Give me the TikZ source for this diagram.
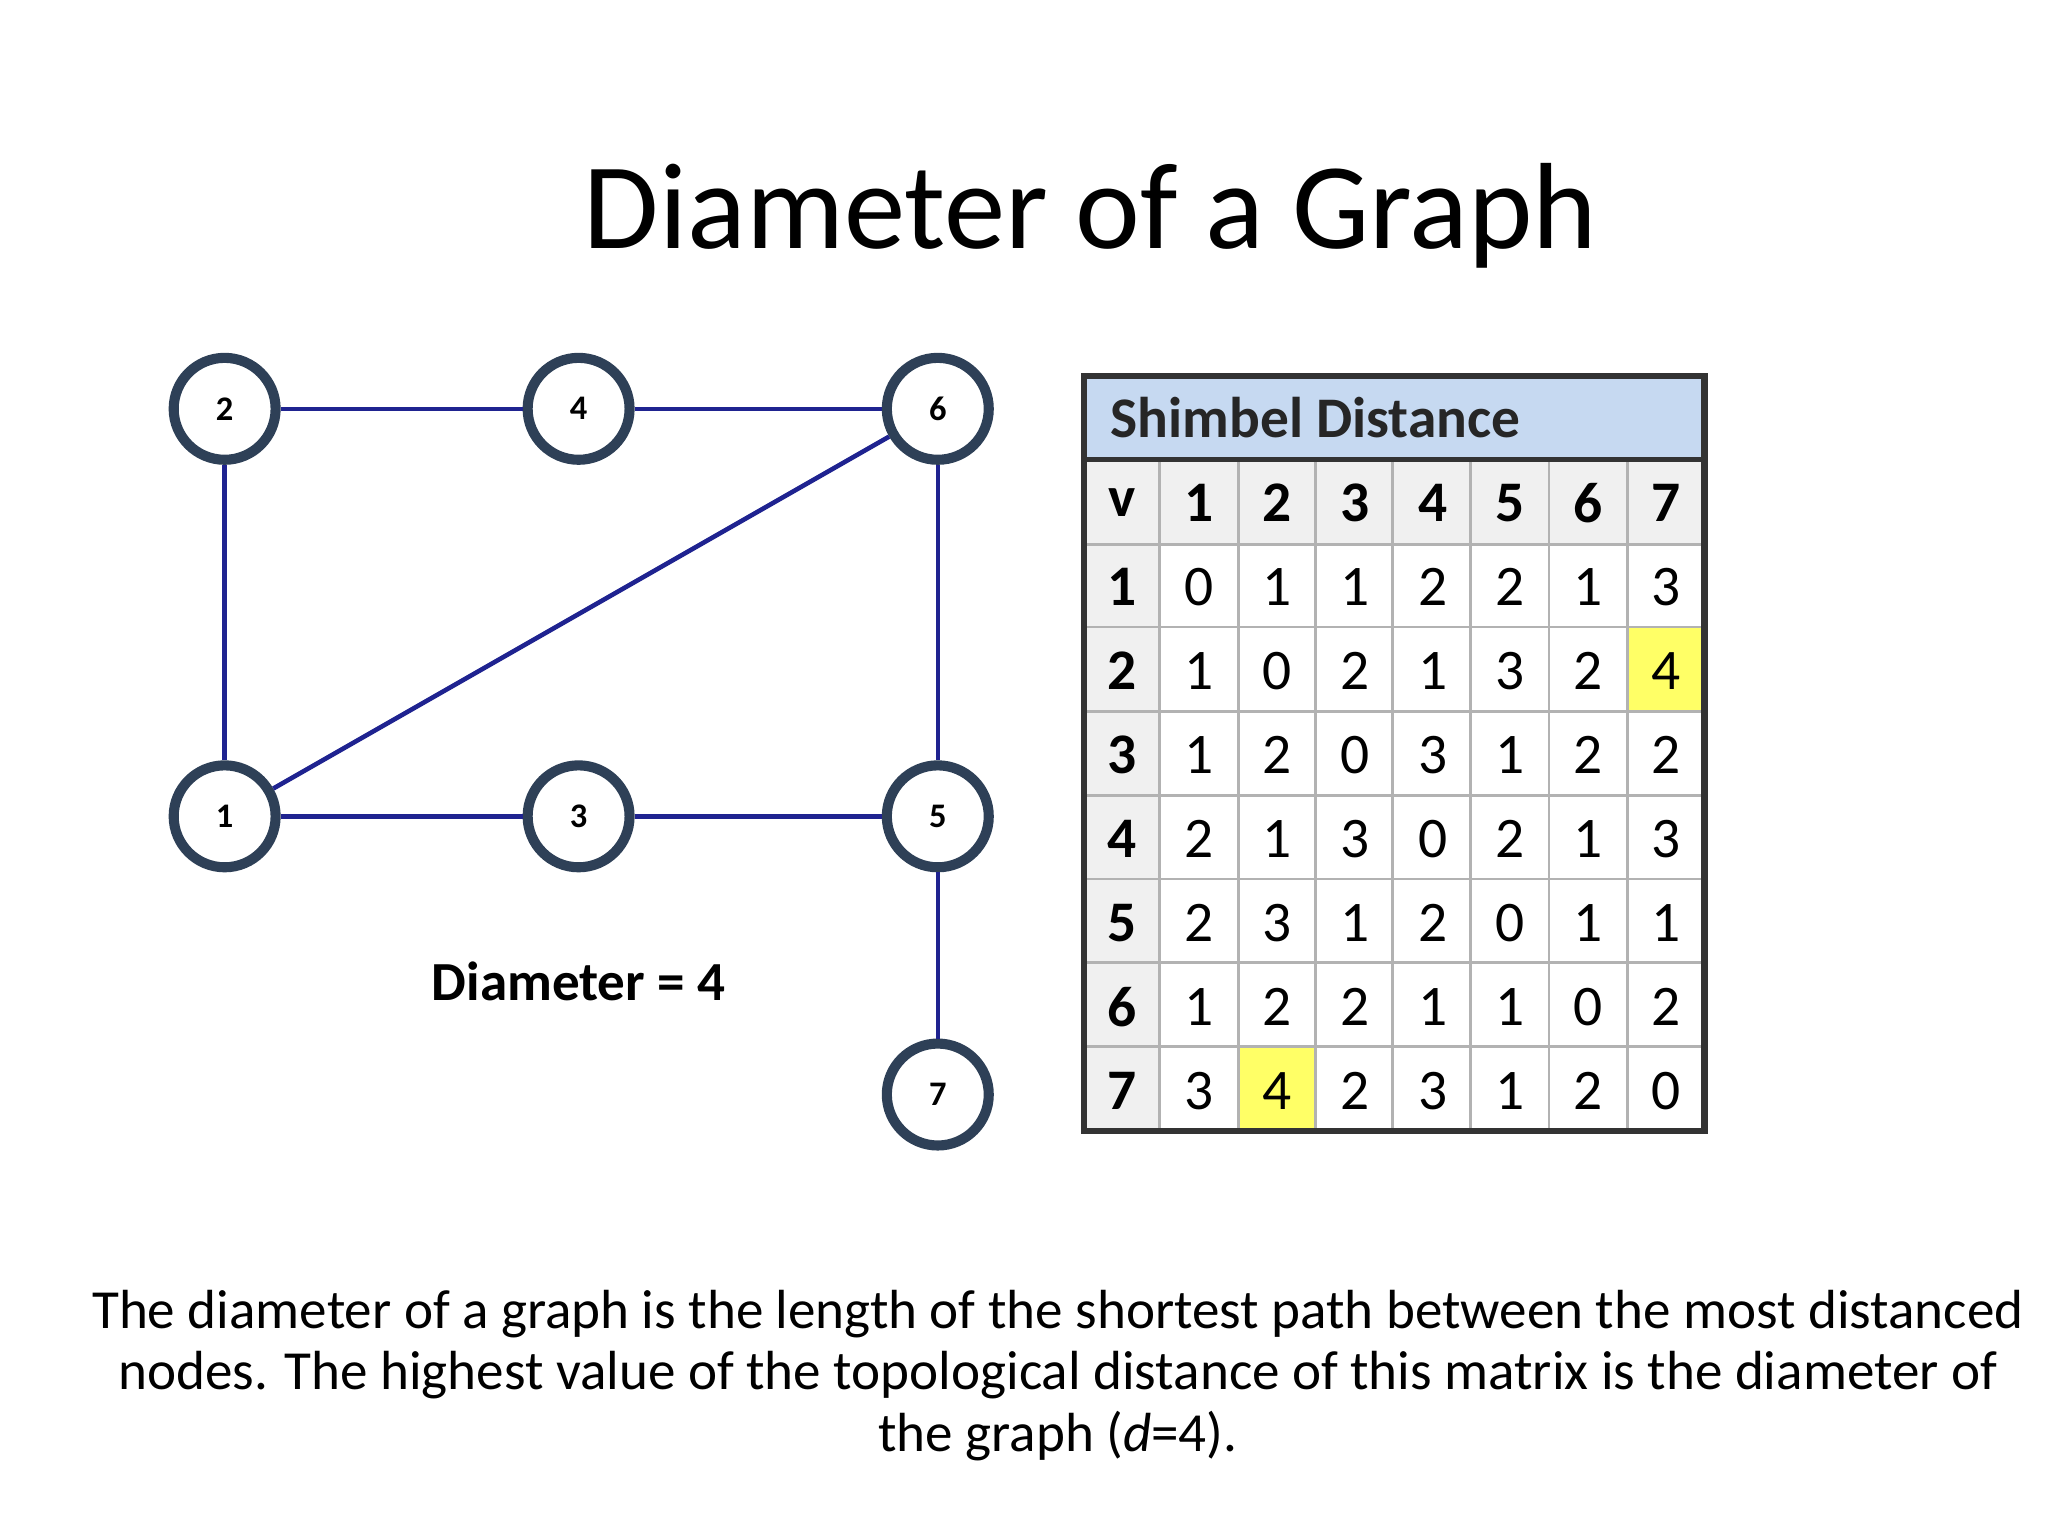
\documentclass[tikz,border=0pt]{standalone}
\usepackage{fontspec}
\setmainfont{Carlito}
\definecolor{edge}{HTML}{1F2390}
\definecolor{ring}{HTML}{2E4057}
\definecolor{hdr}{HTML}{C6D9F1}
\definecolor{cellg}{HTML}{F0F0F0}
\definecolor{hl}{HTML}{FFFF66}
\begin{document}
\begin{tikzpicture}[x=0.01cm,y=-0.01cm,
  vtx/.style={circle,draw=ring,line width=2.2pt,fill=white,minimum size=0.78cm,inner sep=0pt,font=\fontsize{7.5}{8}\selectfont\bfseries},
  edg/.style={draw=edge,line width=1pt},
  cell/.style={font=\fontsize{12.5}{14}\selectfont},
  bcell/.style={font=\fontsize{12.5}{14}\selectfont\bfseries}]
\useasboundingbox (0,0) rectangle (1568,1176);
\node (title) at (835,165) {\fontsize{26.7}{30}\selectfont Diameter of a Graph};
% graph
\node[vtx] (n2) at (172,313) {2};
\node[vtx] (n4) at (443,313) {4};
\node[vtx] (n6) at (718,313) {6};
\node[vtx] (n1) at (172,625) {1};
\node[vtx] (n3) at (443,625) {3};
\node[vtx] (n5) at (718,625) {5};
\node[vtx] (n7) at (718,838) {7};
\draw[edg] (n2)--(n4); \draw[edg] (n4)--(n6); \draw[edg] (n2)--(n1);
\draw[edg] (n1)--(n6); \draw[edg] (n6)--(n5); \draw[edg] (n1)--(n3);
\draw[edg] (n3)--(n5); \draw[edg] (n5)--(n7);
\node[font=\fontsize{12}{14}\selectfont\bfseries] (diam) at (443,751) {Diameter = 4};
% table
\fill[hdr] (830,288) rectangle (1305,352);
\fill[cellg] (830,352) rectangle (1305,417);
\fill[cellg] (830,352) rectangle (888,866);
\fill[hl] (1246,480) rectangle (1305,545);
\fill[hl] (948,801) rectangle (1007,866);
\foreach \x in {888,948,1007,1066,1126,1186,1246} \draw[gray!60,line width=0.6pt] (\x,352)--(\x,866);
\foreach \y in {417,480,545,609,673,737,801} \draw[gray!60,line width=0.6pt] (830,\y)--(1305,\y);
\draw[black!80,line width=1.1pt] (830,352)--(1305,352);
\draw[black!80,line width=1.4pt] (830,288) rectangle (1305,866);
\node[anchor=west,bcell,text=black!85] (th) at (838,320) {Shimbel Distance};
\node[bcell] at (859,385) {v};
\foreach \c in {1,...,7}
  \node[bcell] at ({918+59.6*(\c-1)},385) {\c};
\foreach \r/\row in {1/{0,1,1,2,2,1,3},2/{1,0,2,1,3,2,4},3/{1,2,0,3,1,2,2},4/{2,1,3,0,2,1,3},5/{2,3,1,2,0,1,1},6/{1,2,2,1,1,0,2},7/{3,4,2,3,1,2,0}}{
  \node[bcell] at (859,{385+64.3*\r}) {\r};
  \foreach \v [count=\c from 1] in \row
    \node[cell] at ({918+59.6*(\c-1)},{385+64.3*\r}) {\v};
}
\node[align=center,font=\fontsize{12}{13.4}\selectfont] (cap) at (810,1053)
 {The diameter of a graph is the length of the shortest path between the most distanced\\
  nodes. The highest value of the topological distance of this matrix is the diameter of\\
  the graph (\textit{d}=4).};
\end{tikzpicture}
\end{document}
